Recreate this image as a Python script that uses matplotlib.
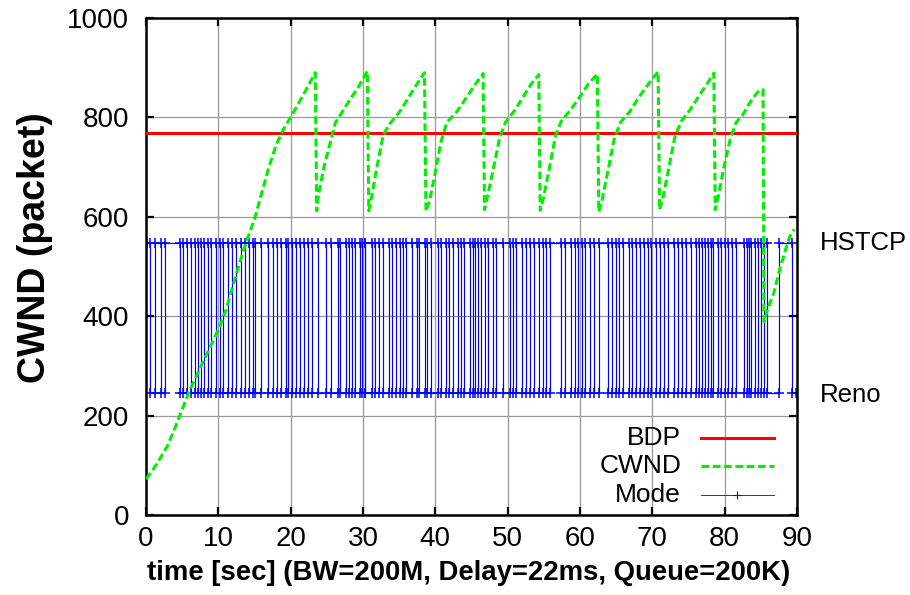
import matplotlib
matplotlib.use("Agg")
import matplotlib.pyplot as plt
from matplotlib.lines import Line2D
from matplotlib.transforms import blended_transform_factory

plt.rcParams['font.family'] = ['Liberation Sans', 'DejaVu Sans']

# ---- data ----
bdp_value = 768

cwnd_t = [0.0, 1.0, 2.0, 3.0, 4.0, 5.0, 6.0, 7.0, 8.0, 9.0, 10.0, 11.0, 12.0, 13.0,
          14.0, 15.0, 16.0, 17.0, 18.0, 19.0, 20.0, 21.0, 22.0, 23.4,
          23.6, 23.9, 24.6, 25.4, 26.2, 27.0, 28.3, 29.4, 30.6,
          30.8, 31.1, 31.9, 32.8, 33.7, 35.1, 36.3, 37.5, 38.5,
          38.7, 39.2, 40.0, 40.8, 41.6, 43.0, 44.3, 45.5, 46.6,
          46.8, 47.2, 48.0, 48.9, 49.7, 51.0, 52.0, 53.2, 54.3,
          54.5, 54.9, 55.8, 56.6, 57.4, 58.7, 60.0, 61.2, 62.4,
          62.6, 63.0, 63.9, 64.7, 65.6, 66.9, 68.2, 69.5, 70.8,
          71.0, 71.5, 72.3, 73.1, 74.0, 75.2, 76.4, 77.5, 78.5,
          78.7, 79.1, 79.9, 80.8, 81.6, 82.5, 83.5, 84.5, 85.3,
          85.45, 85.9, 86.8, 87.6, 88.4, 89.0, 89.6]
cwnd_v = [72, 92, 115, 140, 175, 212, 250, 280, 312, 342, 372, 410, 460, 510,
          555, 595, 648, 700, 745, 776, 800, 826, 852, 890,
          612, 648, 700, 745, 790, 808, 838, 862, 893,
          612, 632, 698, 765, 787, 812, 840, 868, 890,
          611, 632, 690, 752, 790, 812, 840, 866, 888,
          614, 640, 695, 760, 790, 815, 838, 866, 886,
          613, 635, 700, 762, 792, 815, 842, 868, 887,
          610, 630, 695, 755, 790, 812, 842, 868, 892,
          614, 640, 700, 760, 792, 815, 842, 866, 889,
          614, 640, 700, 758, 790, 805, 830, 850, 856,
          389, 412, 447, 493, 533, 560, 575]

# congestion-control mode: HSTCP (upper level) / Reno (lower level)
mode_levels = [548, 245]
mode_start_t = 0.2
mode_end_t = 89.9
mode_switch_t = [
    0.51, 1.20, 2.03, 2.63, 4.66, 5.12, 5.71, 6.26, 6.77, 7.19, 7.56, 8.02,
    8.53, 8.99, 9.64, 10.19, 10.65, 11.34, 11.93, 12.48, 13.18, 13.65, 14.24, 14.79,
    15.11, 15.94, 16.91, 17.59, 18.15, 18.69, 19.29, 19.70, 20.23, 20.74, 21.25, 21.88,
    22.40, 22.99, 23.78, 24.89, 25.58, 26.50, 26.82, 27.61, 28.09, 28.44, 28.96, 29.54,
    29.90, 30.24, 30.32, 31.18, 31.63, 32.18, 32.79, 33.57, 34.05, 34.63, 35.05, 35.53,
    35.95, 36.77, 37.40, 37.81, 38.54, 38.89, 39.40, 40.37, 40.78, 41.48, 41.89, 42.44,
    43.09, 43.55, 43.96, 44.79, 45.25, 45.48, 45.90, 46.38, 46.87, 47.35, 48.00, 48.39,
    49.29, 50.28, 50.74, 51.22, 52.02, 52.60, 53.02, 53.64, 54.33, 54.89, 55.33, 55.85,
    57.37, 57.97, 58.71, 59.31, 59.79, 60.21, 60.69, 61.38, 61.94, 62.56, 63.90, 64.36,
    65.00, 65.46, 66.01, 66.75, 67.23, 67.77, 68.32, 68.88, 69.43, 69.82, 70.51, 71.09,
    71.64, 72.20, 73.02, 73.58, 74.10, 74.68, 75.37, 75.97, 76.45, 76.80, 77.28, 77.66,
    78.07, 78.42, 79.11, 79.52, 79.98, 80.49, 81.06, 81.59, 82.64, 83.02, 83.36, 83.67,
    84.17, 84.64, 85.02, 85.44, 85.89, 87.50, 89.30]

x_ticks = [0, 10, 20, 30, 40, 50, 60, 70, 80, 90]
y_ticks = [0, 200, 400, 600, 800, 1000]

# step trace of the mode: one vertical jump at every switch time
mode_t = [mode_start_t]
mode_v = [mode_levels[0]]
lvl = 0
for s in mode_switch_t:
    mode_t += [s, s]
    mode_v += [mode_levels[lvl], mode_levels[1 - lvl]]
    lvl = 1 - lvl
mode_t.append(mode_end_t)
mode_v.append(mode_levels[lvl])

# ---- figure ----
fig = plt.figure(figsize=(9.1, 5.95), dpi=100)
ax = fig.add_axes([146 / 910, 1 - 515 / 595, 651 / 910, 497 / 595])

ax.set_xlim(0, 90)
ax.set_ylim(0, 1000)
ax.set_xticks(x_ticks)
ax.set_yticks(y_ticks)
ax.grid(True, color='0.6', lw=0.9, zorder=0)
ax.set_axisbelow(True)

ax.axhline(bdp_value, color='#ff0000', lw=2.2, zorder=3)
ax.plot(cwnd_t, cwnd_v, color='#00ee00', lw=2.2, ls=(0, (2.5, 1.2)), zorder=4)
ax.plot(mode_t, mode_v, color='#0000ff', lw=0.85, marker='+', ms=7, mew=1.1, zorder=2)

for sp in ax.spines.values():
    sp.set_linewidth(1.8)
ax.tick_params(direction='in', length=5.5, width=1.6, top=True, right=True,
               labelsize=20)
ax.tick_params(axis='x', pad=8)
ax.tick_params(axis='y', pad=12)

ax.set_xlabel('time [sec] (BW=200M, Delay=22ms, Queue=200K)', fontsize=19.8,
              fontweight='bold')
ax.set_ylabel('CWND (packet)', fontsize=27, fontweight='bold')
ax.xaxis.set_label_coords(0.4954, -0.091)
ax.yaxis.set_label_coords(-0.143, 0.537)

# level names on the right
tr = blended_transform_factory(ax.transAxes, ax.transData)
ax.text(1.035, mode_levels[0], 'HSTCP', transform=tr, fontsize=18.5,
        ha='left', va='center')
ax.text(1.035, mode_levels[1] - 4, 'Reno', transform=tr, fontsize=18.5,
        ha='left', va='center')

# key, text right-aligned before the sample lines
key = [('BDP', dict(color='#ff0000', lw=2.2)),
       ('CWND', dict(color='#00ee00', lw=2.2, ls=(0, (2.5, 1.2)))),
       ('Mode', dict(color='#0000ff', lw=0.6))]
rows = [0.155, 0.0986, 0.040]
for (name, style), yy in zip(key, rows):
    ax.text(0.822, yy, name, transform=ax.transAxes, fontsize=19,
            ha='right', va='center')
    ax.add_line(Line2D([0.852, 0.965], [yy, yy], transform=ax.transAxes, **style))
ax.add_line(Line2D([0.9085], [rows[2]], transform=ax.transAxes, color='#0000ff',
                   marker='+', ms=6, mew=0.8, ls='none'))

fig.savefig('out.png', dpi=100)
